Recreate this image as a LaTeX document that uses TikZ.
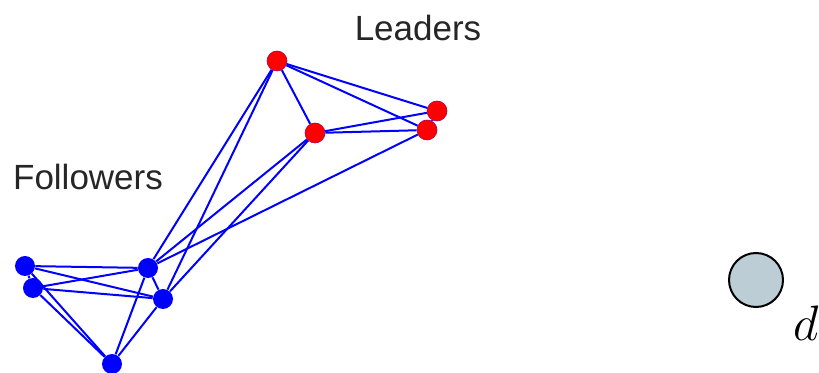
\documentclass[tikz,border=0pt]{standalone}
\usepackage{fontspec}
\setsansfont{Liberation Sans}
\definecolor{agentgray}{RGB}{188,205,214}
\begin{document}
\begin{tikzpicture}[x=0.5pt,y=-0.5pt,
        leader/.style={circle,fill=red,draw=red!70!blue,line width=0.3pt,inner sep=0pt,minimum size=10pt},
        follower/.style={circle,fill=blue,inner sep=0pt,minimum size=10pt},
        link/.style={blue,line width=1pt}]
        \useasboundingbox (0,0) rectangle (819,373);
        %% Leaders
        \node[leader] (L1) at (277,61) {};
        \node[leader] (L2) at (315,133) {};
        \node[leader] (L3) at (437,111) {};
        \node[leader] (L4) at (427,130) {};
        %% Followers
        \node[follower] (F1) at (148,268) {};
        \node[follower] (F2) at (163,299) {};
        \node[follower] (F3) at (25,266) {};
        \node[follower] (F4) at (33,288) {};
        \node[follower] (F5) at (112,364) {};
        %% Links
        \foreach \a/\b in {L1/L2,L1/L3,L1/L4,L2/L3,L2/L4,L3/L4,
                           L1/F1,L1/F2,L2/F1,L2/F2,L4/F1,
                           F3/F1,F3/F2,F4/F1,F4/F2,F3/F4,F1/F2,
                           F3/F5,F4/F5,F1/F5,F2/F5}
            \draw[link] (\a) -- (\b);
        %% Labels
        \node[font=\sffamily\fontsize{17.5}{20}\selectfont,text=black!85] (lead) at (418,28) {Leaders};
        \node[font=\sffamily\fontsize{17.5}{20}\selectfont,text=black!85] (foll) at (88,177) {Followers};
        %% Agent
        \node[circle,draw,line width=1pt,fill=agentgray,minimum size=27pt,inner sep=0pt] (agent) at (756,280) {};
        \node[anchor=base west,inner sep=0pt,font=\fontsize{28}{32}\selectfont] (dlab) at (793,341) {$d$};
    \end{tikzpicture}
\end{document}
